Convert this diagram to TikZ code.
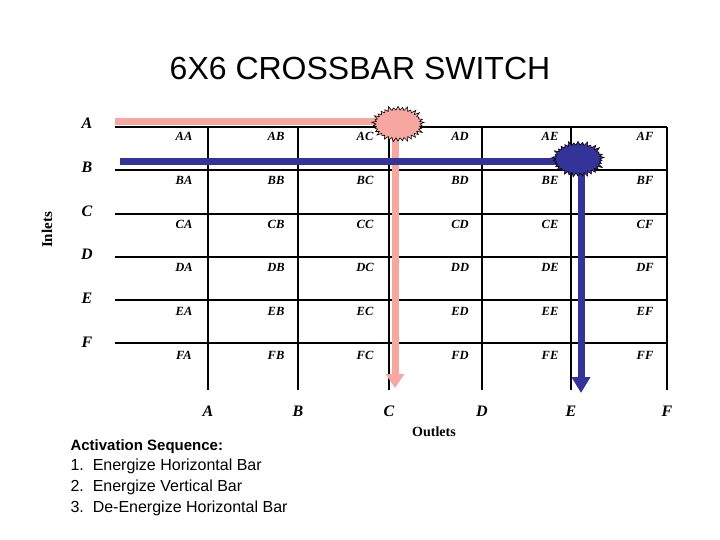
\documentclass[tikz,border=0pt]{standalone}
\usepackage{fontspec}
\setmainfont{Liberation Serif}
\setsansfont{Liberation Sans}
\usetikzlibrary{shapes.symbols,arrows.meta}
\definecolor{pinkbar}{RGB}{246,168,160}
\definecolor{bluebar}{RGB}{51,51,153}
\tikzset{
 gridline/.style={black,line width=1.3pt},
 cell/.style={font=\bfseries\itshape\fontsize{12.5}{12}\selectfont,anchor=base},
 letter/.style={font=\bfseries\itshape\fontsize{16}{16}\selectfont,anchor=base},
 burst/.style={starburst,starburst points=34,starburst point height=5pt,draw=black,line width=0.6pt,minimum width=54pt,minimum height=38pt,inner sep=0pt},
 bar/.style={line width=7pt},
 txt/.style={font=\sffamily\fontsize{16}{18}\selectfont,anchor=base west}
}
\begin{document}
\begin{tikzpicture}[x=1pt,y=-1pt]
\useasboundingbox[fill=white] (0,0) rectangle (720,540);
\node[font=\sffamily\fontsize{32}{34}\selectfont] (title) at (360,68) {6X6 CROSSBAR SWITCH};
% grid
\foreach \y in {127,170,214,257,300,343} \draw[gridline] (115,\y) -- (667,\y);
\foreach \x in {208,298,389,482,571,667} \draw[gridline] (\x,127) -- (\x,390);
% row labels
\foreach \l [count=\i from 0] in {A,B,C,D,E,F}
  \node[letter] (r\l) at (87,129+43.6*\i) {\l};
% column labels
\foreach \l/\x in {A/208,B/298,C/389,D/482,E/571,F/667}
  \node[letter] (c\l) at (\x,416) {\l};
% cell labels
\foreach \r [count=\i from 0] in {A,B,C,D,E,F}
  \foreach \c/\x in {A/184,B/276,C/365,D/460,E/550,F/645}
    \node[cell] (\r\c) at (\x,141+43.6*\i) {\r\c};
\node[font=\bfseries\fontsize{14}{14}\selectfont] (outl) at (434,432) {Outlets};
\node[font=\bfseries\fontsize{15}{15}\selectfont,rotate=90] (inl) at (47,230) {Inlets};
% pink path
\coordinate (p0) at (115,122);
\coordinate (p1) at (395,122);
\coordinate (p2) at (395,388);
\draw[pinkbar,bar] (p0) -- (p1);
\draw[pinkbar,bar,-{Triangle[width=18pt,length=14pt]}] (p1) -- (p2);
\node[burst,fill=pinkbar] (sp) at (398,124) {};
% blue path
\coordinate (b0) at (120,162);
\coordinate (b1) at (581,162);
\coordinate (b2) at (581,393);
\draw[bluebar,bar] (b0) -- (b1);
\draw[bluebar,bar,-{Triangle[width=18pt,length=16pt]}] (b1) -- (b2);
\node[burst,fill=bluebar] (sb) at (578,159) {};
% text
\node[txt,font=\sffamily\bfseries\fontsize{15}{16}\selectfont] (t0) at (67,450) {Activation Sequence:};
\node[txt] (t1) at (67,470) {1.\ \ Energize Horizontal Bar};
\node[txt] (t2) at (67,491) {2.\ \ Energize Vertical Bar};
\node[txt] (t3) at (67,512) {3.\ \ De-Energize Horizontal Bar};
\end{tikzpicture}
\end{document}
